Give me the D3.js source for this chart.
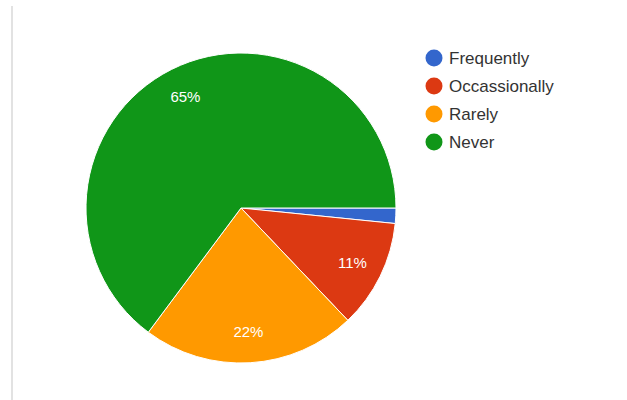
<!DOCTYPE html>
<html>
<head>
<meta charset="utf-8">
<script src="https://cdn.jsdelivr.net/npm/d3@7"></script>
<style>
  body { margin: 0; background: #fff; }
  svg { display: block; font-family: "Liberation Sans", Arial, sans-serif; }
</style>
</head>
<body>
<script>
// answers and their share (percent)
var categories = ["Frequently", "Occassionally", "Rarely", "Never"];
var values = [1.6, 11.3, 22.3, 64.8];
var colors = ["#3366cc", "#dc3912", "#ff9900", "#109618"];

var width = 627, height = 400;
var cx = 241, cy = 208, radius = 155;

var svg = d3.select("body").append("svg")
    .attr("width", width).attr("height", height);

// thin frame line on the left
svg.append("line")
    .attr("x1", 12).attr("x2", 12)
    .attr("y1", 6).attr("y2", height)
    .attr("stroke", "#e2e2e2").attr("stroke-width", 2);

var data = categories.map(function(c, i) { return {name: c, value: values[i], color: colors[i]}; });
var total = d3.sum(values);

// google style: start at 3 o'clock, clockwise
var pie = d3.pie()
    .sort(null)
    .value(function(d) { return d.value; })
    .startAngle(Math.PI / 2)
    .endAngle(Math.PI / 2 + 2 * Math.PI);

var arc = d3.arc().innerRadius(0).outerRadius(radius);
var labelArc = d3.arc().innerRadius(radius * 0.8).outerRadius(radius * 0.8);

var g = svg.append("g").attr("transform", "translate(" + cx + "," + cy + ")");

var slices = g.selectAll("g.slice").data(pie(data)).enter().append("g").attr("class", "slice");

slices.append("path")
    .attr("d", arc)
    .attr("fill", function(d) { return d.data.color; })
    .attr("stroke", "#fff")
    .attr("stroke-width", 1);

slices.filter(function(d) { return d.data.value / total > 0.05; })
  .append("text")
    .attr("transform", function(d) { return "translate(" + labelArc.centroid(d) + ")"; })
    .attr("text-anchor", "middle")
    .attr("dy", "0.35em")
    .attr("fill", "#fff")
    .attr("font-size", 15)
    .text(function(d) { return Math.round(d.data.value / total * 100) + "%"; });

// legend
var legend = svg.append("g").attr("transform", "translate(434,58)");
var rows = legend.selectAll("g").data(data).enter().append("g")
    .attr("transform", function(d, i) { return "translate(0," + i * 28 + ")"; });

rows.append("circle").attr("r", 8.5).attr("fill", function(d) { return d.color; });
rows.append("text")
    .attr("x", 15).attr("dy", "0.35em")
    .attr("font-size", 17)
    .attr("fill", "#333")
    .text(function(d) { return d.name; });
</script>
</body>
</html>
